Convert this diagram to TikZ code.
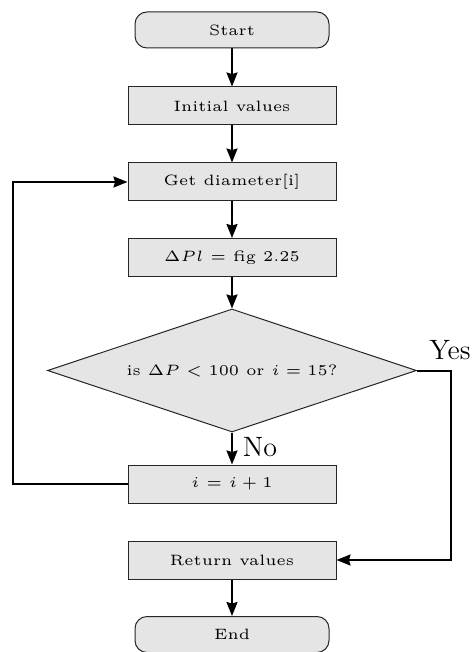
\documentclass[tikz,border=0pt]{standalone}
\usepackage{graphicx}
\usetikzlibrary{shapes.geometric,arrows.meta}
% node labels: the smallest optical size, enlarged
\newcommand{\boxtext}[1]{\scalebox{1.5}{\tiny #1}}
\begin{document}
\begin{tikzpicture}[x=0.5pt,y=-0.5pt,
  box/.style={draw=black!85, line width=0.5pt, fill=gray!20, minimum width=104pt, minimum height=19pt, inner sep=0pt},
  term/.style={box, rounded corners=6pt, minimum width=97pt, minimum height=18pt},
  decision/.style={draw=black!85, line width=0.5pt, fill=gray!20, diamond, aspect=3, minimum width=184.5pt, minimum height=61.5pt, inner sep=0pt},
  flow/.style={line width=1pt, -{Stealth[length=7pt,width=5.5pt,inset=0.8pt]}},
  tag/.style={font=\fontsize{14}{16}\selectfont, inner sep=0pt}]
  \useasboundingbox (0,0) rectangle (475,652);
  \node[term] (start) at (232,30) {\boxtext{Start}};
  \node[box] (init) at (232,106) {\boxtext{Initial values}};
  \node[box] (diam) at (232,182) {\boxtext{Get diameter[i]}};
  \node[box] (dpl) at (232,257.5) {\boxtext{$\Delta Pl$ = fig 2.25}};
  \node[decision] (test) at (232,370.5) {\boxtext{is $\Delta P < 100$ or $i = 15$?}};
  \node[box] (inc) at (232,484) {\boxtext{$i$ = $i + 1$}};
  \node[box] (ret) at (232,560) {\boxtext{Return values}};
  \node[term] (end) at (232,634.5) {\boxtext{End}};
  \node[tag] (yes) at (450,350) {Yes};
  \node[tag] (no) at (260,447) {No};
  \coordinate (loopL) at (13,0);
  \coordinate (loopR) at (451,0);
  \draw[flow] (start) -- (init);
  \draw[flow] (init) -- (diam);
  \draw[flow] (diam) -- (dpl);
  \draw[flow] (dpl) -- (test);
  \draw[flow] (test) -- (inc);
  \draw[flow] (ret) -- (end);
  \draw[flow] (inc.west) -- (inc.west -| loopL) -- (diam.west -| loopL) -- (diam.west);
  \draw[flow] (test.east) -- (test.east -| loopR) -- (ret.east -| loopR) -- (ret.east);
\end{tikzpicture}
\end{document}
